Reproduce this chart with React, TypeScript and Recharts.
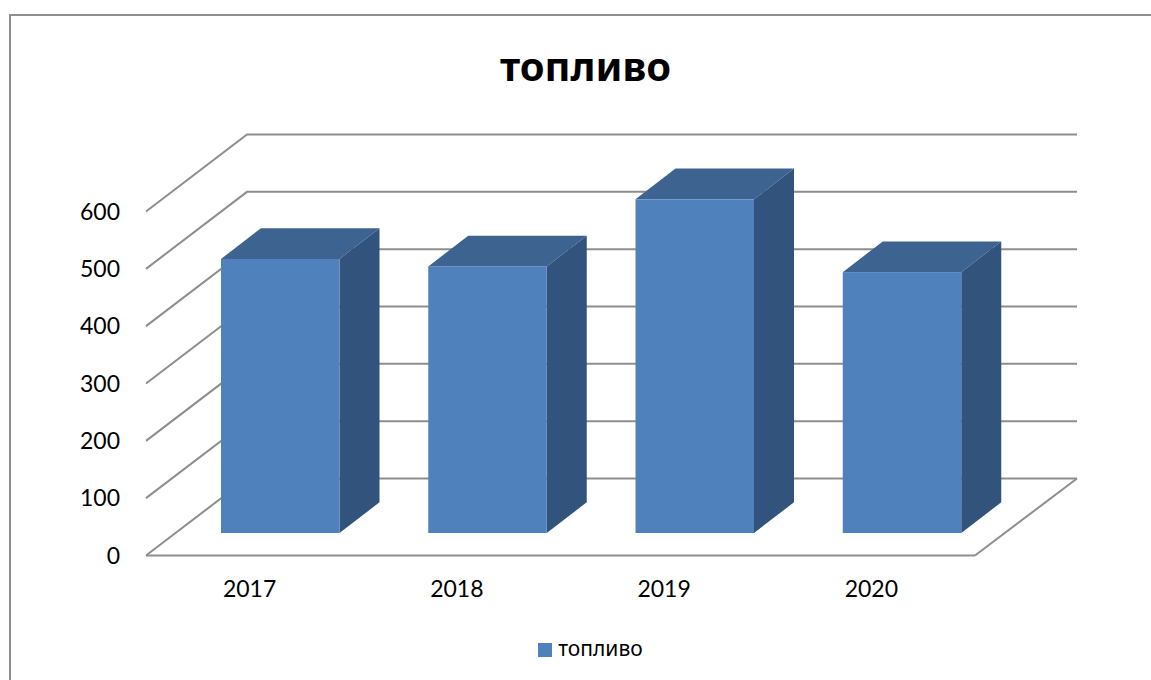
import React from 'react';
import { BarChart, Bar, XAxis, YAxis, CartesianGrid, Legend } from 'recharts';

const years = ['2017', '2018', '2019', '2020'];
const fuelValues = [478, 465, 582, 455];
const valueTicks = [0, 100, 200, 300, 400, 500, 600];
const seriesName = 'топливо';

const data = years.map((year, i) => ({ year, fuel: fuelValues[i] }));

const COLORS = {
    front: '#4F81BD',
    top: '#3D6390',
    side: '#32547C',
    line: '#8E8E8E',
};

// wall depth of the fake 3d box
const WALL_DX = 101;
const WALL_DY = 77;
const WALL_RIGHT = 102;
// bars sit in the middle of the floor
const BAR_DX = 31;
const BAR_DY = 22.5;
const BAR_DEPTH_X = 40;
const BAR_DEPTH_Y = 30.7;

const AXIS_FONT = 'Lato, sans-serif';
const TEXT_FONT = '"Noto Sans", sans-serif';

const Bar3D = (props: any) => {
    const x = props.x + BAR_DX;
    const y = props.y - BAR_DY;
    const w = props.width;
    const h = props.height;
    const r = x + w;
    const b = y + h;
    return (
        <g>
            <polygon
                points={`${x},${y} ${x + BAR_DEPTH_X},${y - BAR_DEPTH_Y} ${r + BAR_DEPTH_X},${y - BAR_DEPTH_Y} ${r},${y}`}
                fill={COLORS.top}
            />
            <polygon
                points={`${r},${y} ${r + BAR_DEPTH_X},${y - BAR_DEPTH_Y} ${r + BAR_DEPTH_X},${b - BAR_DEPTH_Y} ${r},${b}`}
                fill={COLORS.side}
            />
            <rect x={x} y={y} width={w} height={h} fill={COLORS.front} />
        </g>
    );
};

// each grid line wraps around the left wall and the back wall
const WallLine = (props: any) => {
    const { x1, y1, x2, index } = props;
    const isFloor = index === 0;
    const backY = y1 - WALL_DY;
    return (
        <g key={props.key}>
            <polyline
                points={`${x1},${y1} ${x1 + WALL_DX},${backY} ${x2 + WALL_RIGHT},${backY}`}
                fill="none"
                stroke={COLORS.line}
                strokeWidth={2}
            />
            {isFloor && (
                <polyline
                    points={`${x2 + WALL_RIGHT},${backY} ${x2},${y1}`}
                    fill="none"
                    stroke={COLORS.line}
                    strokeWidth={2}
                />
            )}
        </g>
    );
};

const App: React.FC = () => {
    return (
        <div style={{ position: 'absolute', left: 0, top: 0, width: 1151, height: 680, overflow: 'hidden', background: '#fff' }}>
            <div
                style={{
                    position: 'absolute',
                    left: 9,
                    top: 14,
                    width: 1300,
                    height: 800,
                    borderLeft: `2px solid ${COLORS.line}`,
                    borderTop: `2px solid ${COLORS.line}`,
                }}
            />
            <div
                style={{
                    position: 'absolute',
                    left: 0,
                    width: 1171,
                    top: 41,
                    textAlign: 'center',
                    fontFamily: TEXT_FONT,
                    fontWeight: 700,
                    fontSize: 40,
                    lineHeight: '50px',
                    color: '#000',
                }}
            >
                {seriesName}
            </div>
            <BarChart
                width={1151}
                height={680}
                data={data}
                barSize={118.5}
                margin={{ top: 211.5, right: 176, bottom: 84.5, left: 0 }}
                style={{ position: 'absolute', left: 0, top: 0 }}
            >
                <CartesianGrid vertical={false} horizontal={WallLine} />
                <XAxis
                    dataKey="year"
                    height={40}
                    tickLine={false}
                    tickMargin={19}
                    axisLine={{ stroke: COLORS.line, strokeWidth: 2 }}
                    tick={{ fill: '#000', fontSize: 23, fontFamily: AXIS_FONT }}
                />
                <YAxis
                    width={146}
                    domain={[0, 600]}
                    ticks={valueTicks}
                    axisLine={false}
                    tickLine={false}
                    tickMargin={20}
                    tick={{ fill: '#000', fontSize: 23, fontFamily: AXIS_FONT }}
                />
                <Legend
                    layout="horizontal"
                    align="center"
                    verticalAlign="middle"
                    iconType="square"
                    iconSize={14}
                    wrapperStyle={{ left: 0, top: 634, width: 1191, fontFamily: TEXT_FONT, fontSize: 21 }}
                    formatter={(value: string) => <span style={{ color: '#000', marginLeft: 2 }}>{value}</span>}
                />
                <Bar dataKey="fuel" name={seriesName} fill={COLORS.front} shape={Bar3D} isAnimationActive={false} />
            </BarChart>
        </div>
    );
};

export default App;
